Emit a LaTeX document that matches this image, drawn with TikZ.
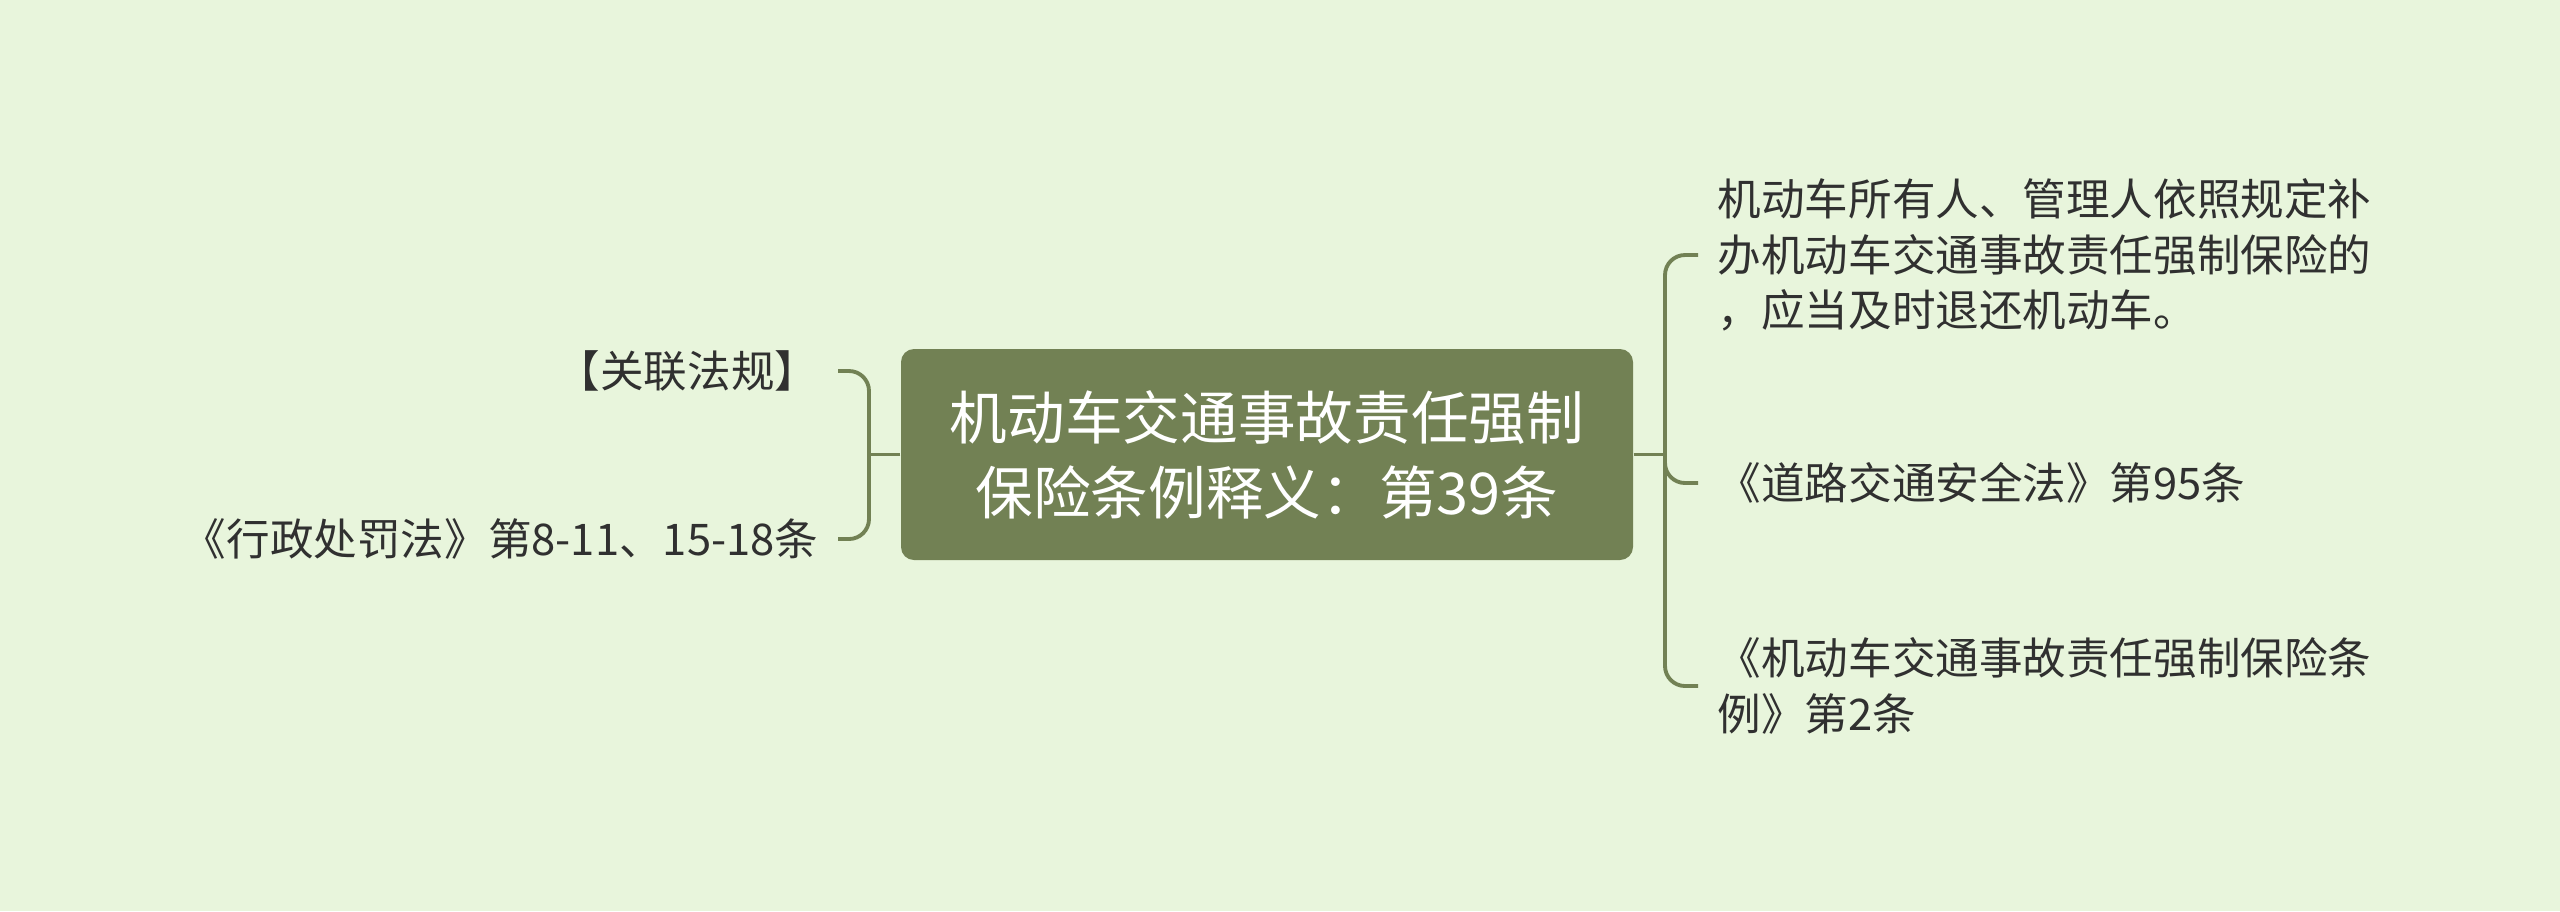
\documentclass[tikz,border=0pt]{standalone}
\usepackage{fontspec}
\setmainfont{Noto Sans CJK SC}
\usetikzlibrary{positioning}
\definecolor{bgcol}{RGB}{232,245,220}
\definecolor{topiccol}{RGB}{114,129,84}
\definecolor{textcol}{RGB}{48,48,48}

\begin{document}
\begin{tikzpicture}[
        root_style/.style={rectangle,rounded corners=0.13cm,fill=topiccol,text=white,align=center,
            minimum width=7.32cm,minimum height=2.11cm,inner sep=0pt,
            font=\fontsize{16.4pt}{21.3pt}\selectfont},
        leaf_style/.style={text=textcol,align=left,inner xsep=0.19cm,inner ysep=0pt,
            font=\fontsize{12.4pt}{15.8pt}\selectfont},
        edge_style/.style={draw=topiccol,line width=1.1pt,rounded corners=0.2cm}]

        \fill [bgcol] (0,0) rectangle (25.6,-9.11);
        \useasboundingbox (0,0) rectangle (25.6,-9.11);

        \node [root_style](root) at (12.67,-4.545) {机动车交通事故责任强制\\保险条例释义：第39条};

        \node [leaf_style,anchor=east](ln1) at (8.38,-3.71) {【关联法规】};
        \node [leaf_style,anchor=east](ln2) at (8.38,-5.39) {《行政处罚法》第8-11、15-18条};

        \node [leaf_style,anchor=west](rn1) at (16.98,-2.55) {机动车所有人、管理人依照规定补\\办机动车交通事故责任强制保险的\\，应当及时退还机动车。};
        \node [leaf_style,anchor=west](rn2) at (16.98,-4.83) {《道路交通安全法》第95条};
        \node [leaf_style,anchor=west](rn3) at (16.98,-6.86) {《机动车交通事故责任强制保险条\\例》第2条};

        \coordinate (lspine) at (8.69,-4.545);
        \coordinate (rspine) at (16.65,-4.545);

        \draw [edge_style] (root.west) -- (lspine);
        \draw [edge_style] (ln1.east) -| (lspine) |- (ln2.east);

        \draw [edge_style] (root.east) -- (rspine);
        \draw [edge_style] (rn1.west) -| (rspine) |- (rn3.west);
        \draw [edge_style] (rspine) |- (rn2.west);

\end{tikzpicture}
\end{document}
